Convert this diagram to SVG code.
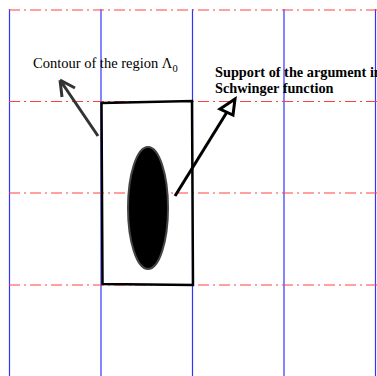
<svg xmlns="http://www.w3.org/2000/svg" width="377" height="376" viewBox="0 0 377 376">
<style>
.v{stroke:#3333ff;stroke-width:1.2;fill:none}
.h{stroke:#ff4040;stroke-width:1.2;stroke-dasharray:11 4 2 4;fill:none}
.lbl{font-family:"Liberation Serif",serif;font-size:14.5px;fill:#000}
.b{font-weight:bold;font-size:14.3px}
</style>
<rect width="377" height="376" fill="#fff"/>
<g id="grid">
<line class="v" x1="9.5" y1="9" x2="9.5" y2="376"/>
<line class="v" x1="101" y1="9" x2="101" y2="376"/>
<line class="v" x1="192.5" y1="9" x2="192.5" y2="376"/>
<line class="v" x1="284" y1="9" x2="284" y2="376"/>
<line class="v" x1="375.5" y1="9" x2="375.5" y2="376"/>
<line class="h" x1="9" y1="10" x2="377" y2="10"/>
<line class="h" x1="9" y1="101.5" x2="377" y2="101.5"/>
<line class="h" x1="9" y1="193" x2="377" y2="193"/>
<line class="h" x1="9" y1="285" x2="377" y2="285"/>
</g>
<g id="region">
<polygon points="101.5,103 192,101 193,285 102.5,284" fill="none" stroke="#000" stroke-width="2.5"/>
</g>
<g id="support">
<ellipse cx="148" cy="208" rx="20" ry="61" fill="#000" stroke="#444" stroke-width="2"/>
</g>
<g id="connectors">
<path d="M98,136 L60,80 M60,80 L62,97 M60,80 L75,88" fill="none" stroke="#333" stroke-width="3"/>
<path d="M175,196 L227,112" fill="none" stroke="#000" stroke-width="3"/>
<polygon points="235,99 220,109 233,115" fill="none" stroke="#000" stroke-width="3" stroke-linejoin="miter"/>
</g>
<g id="labels">
<text class="lbl" x="33" y="68">Contour of the region Λ<tspan font-size="10.5" dy="4">0</tspan></text>
<text class="lbl b" x="215" y="77">Support of the argument in</text>
<text class="lbl b" x="215" y="93">Schwinger function</text>
</g>
</svg>
